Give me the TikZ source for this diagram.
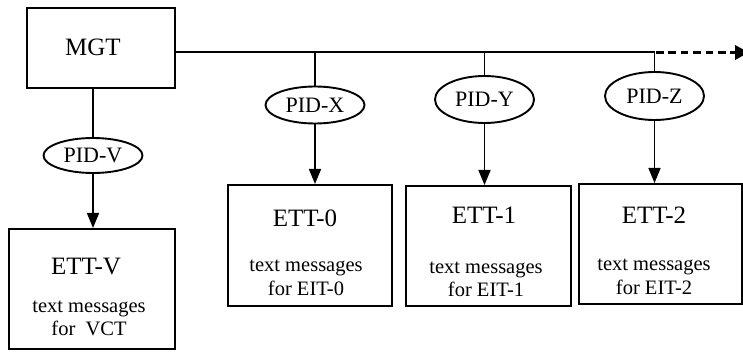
\documentclass[tikz,border=0pt]{standalone}
\usepackage{fontspec}
\setmainfont{Liberation Serif}
\usetikzlibrary{arrows.meta,shapes.geometric}
\tikzset{
	tbox/.style={draw, line width=2pt, inner sep=0pt},
	pid/.style={draw, ellipse, line width=1.9pt, inner sep=0pt, minimum width=99pt,
		font=\fontsize{22}{24}\selectfont},
	title/.style={anchor=base, inner sep=0pt, font=\fontsize{25}{28}\selectfont},
	msg/.style={anchor=base, inner sep=0pt, font=\fontsize{20.5}{22}\selectfont},
	link/.style={line width=1.6pt},
	feed/.style={line width=1.6pt, -{Triangle[length=15pt, width=12pt]}},
	more/.style={line width=3.4pt, dash pattern=on 7.5pt off 4.9pt, -{Triangle[length=14pt, width=14pt]}}
}
\begin{document}
\begin{tikzpicture}[x=1pt, y=-1pt]
		\useasboundingbox (0,0) rectangle (743,352);
		% tables
		\node[tbox, minimum width=148pt, minimum height=80pt] (mgt) at (101,48) {};
		\node[tbox, minimum width=166pt, minimum height=120pt] (ettv) at (92,289) {};
		\node[tbox, minimum width=164pt, minimum height=121pt] (ett0) at (310,245.5) {};
		\node[tbox, minimum width=165pt, minimum height=120pt] (ett1) at (488.5,246) {};
		\node[tbox, minimum width=163pt, minimum height=120pt] (ett2) at (660,244) {};
		\node[title] (mgttext) at (93,56) {MGT};
		\node[title] (ettvtext) at (86,274) {ETT-V};
		\node[msg] (ettvmsg) at (89,312) {text messages};
		\node[msg] (ettvfor) at (89,335) {for\ \ VCT};
		\node[title] (ett0text) at (305,227) {ETT-0};
		\node[msg] (ett0msg) at (306,272) {text messages};
		\node[msg] (ett0for) at (306,295) {for EIT-0};
		\node[title] (ett1text) at (484,224) {ETT-1};
		\node[msg] (ett1msg) at (486,273) {text messages};
		\node[msg] (ett1for) at (486,296) {for EIT-1};
		\node[title] (ett2text) at (654,224) {ETT-2};
		\node[msg] (ett2msg) at (654,271) {text messages};
		\node[msg] (ett2for) at (654,294) {for EIT-2};
		% pids
		\node[pid, minimum height=35pt] (pidv) at (93,155.5) {PID-V};
		\node[pid, minimum height=37pt] (pidx) at (315,105) {PID-X};
		\node[pid, minimum height=47pt] (pidy) at (484.5,99.5) {PID-Y};
		\node[pid, minimum height=48pt] (pidz) at (654.5,96) {PID-Z};
		% bus
		\coordinate (busend) at (654.5,52);
		\coordinate (bustip) at (749,52.5);
		\draw[link] (mgt.east |- busend) -- (busend);
		\draw[more] (busend |- bustip) ++(1.5,0) -- (bustip);
		\draw[link] (mgt.south -| pidv.north) -- (pidv.north);
		\draw[link] (pidx.north |- busend) -- (pidx.north);
		\draw[link] (pidy.north |- busend) -- (pidy.north);
		\draw[link] (pidz.north |- busend) -- (pidz.north);
		\draw[feed] (pidv.south) -- (pidv.south |- ettv.north);
		\draw[feed] (pidx.south) -- (pidx.south |- ett0.north);
		\draw[feed] (pidy.south) -- (pidy.south |- ett1.north);
		\draw[feed] (pidz.south) -- (pidz.south |- ett2.north);
	\end{tikzpicture}
\end{document}
